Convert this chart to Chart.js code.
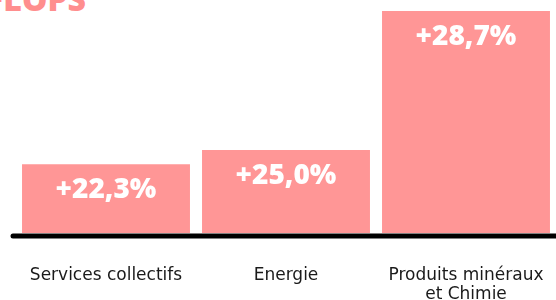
<!DOCTYPE html>
<html>
<head>
<meta charset="utf-8">
<script src="https://cdn.jsdelivr.net/npm/chart.js@4.4.1/dist/chart.umd.min.js"></script>
<style>
  html, body { margin: 0; padding: 0; background: #ffffff; overflow: hidden; }
  #wrap { position: relative; width: 556px; height: 300px; }
  #title {
    position: absolute; left: -14px; top: -18px;
    font-family: "Open Sans", sans-serif; font-weight: 800; font-size: 32px;
    color: #FF8E8E; white-space: nowrap; line-height: 34px;
  }
  canvas { position: absolute; left: 0; top: 0; }
</style>
</head>
<body>
<div id="wrap">
  <div id="title">FLOPS</div>
  <canvas id="c" width="556" height="300"></canvas>
</div>
<script>
// Categories (x-axis tick labels)
const categories = [
  ["Services collectifs"],
  ["Energie"],
  ["Produits minéraux", "et Chimie"]
];
// Growth values as printed on the bars (%)
const growthValues = [22.3, 25.0, 28.7];
// Bar lengths as drawn in the picture (relative units, tallest = 100)
const barLengths = [31, 37.4, 100];

const barColor = '#FF9696';

function fmt(v) {
  return '+' + v.toFixed(1).replace('.', ',') + '%';
}

const valueLabelPlugin = {
  id: 'valueLabels',
  afterDatasetsDraw(chart) {
    const ctx = chart.ctx;
    const meta = chart.getDatasetMeta(0);
    ctx.save();
    ctx.fillStyle = '#ffffff';
    ctx.font = '800 28px "Open Sans", sans-serif';
    ctx.textAlign = 'center';
    ctx.textBaseline = 'middle';
    meta.data.forEach((bar, i) => {
      ctx.fillText(fmt(growthValues[i]), bar.x, bar.y + 26);
    });
    ctx.restore();
  }
};

const baselinePlugin = {
  id: 'baseline',
  afterDatasetsDraw(chart) {
    const ctx = chart.ctx;
    const yScale = chart.scales.y;
    const y0 = yScale.getPixelForValue(0) + 3;
    ctx.save();
    ctx.strokeStyle = '#000000';
    ctx.lineWidth = 5;
    ctx.lineCap = 'round';
    ctx.beginPath();
    ctx.moveTo(chart.chartArea.left - 3, y0);
    ctx.lineTo(chart.chartArea.right + 5, y0);
    ctx.stroke();
    ctx.restore();
  }
};

new Chart(document.getElementById('c'), {
  type: 'bar',
  data: {
    labels: categories,
    datasets: [{
      data: barLengths,
      backgroundColor: barColor,
      borderWidth: 0,
      categoryPercentage: 1.0,
      barPercentage: 0.933
    }]
  },
  options: {
    responsive: false,
    animation: false,
    devicePixelRatio: 1,
    layout: { padding: { left: 16, right: 0, top: 11, bottom: 0 } },
    plugins: {
      legend: { display: false },
      tooltip: { enabled: false },
      title: { display: false }
    },
    scales: {
      x: {
        grid: { display: false, drawTicks: false },
        border: { display: false },
        ticks: {
          color: '#1a1a1a',
          font: { family: '"DejaVu Sans", sans-serif', size: 17, weight: '400', lineHeight: 1.12 },
          padding: 33,
          maxRotation: 0,
          autoSkip: false
        },
        afterFit(scale) {
          scale.height = 67;
          scale.paddingLeft = 0;
          scale.paddingRight = 0;
        }
      },
      y: {
        display: false,
        min: 0,
        max: 100
      }
    }
  },
  plugins: [valueLabelPlugin, baselinePlugin]
});
</script>
</body>
</html>
